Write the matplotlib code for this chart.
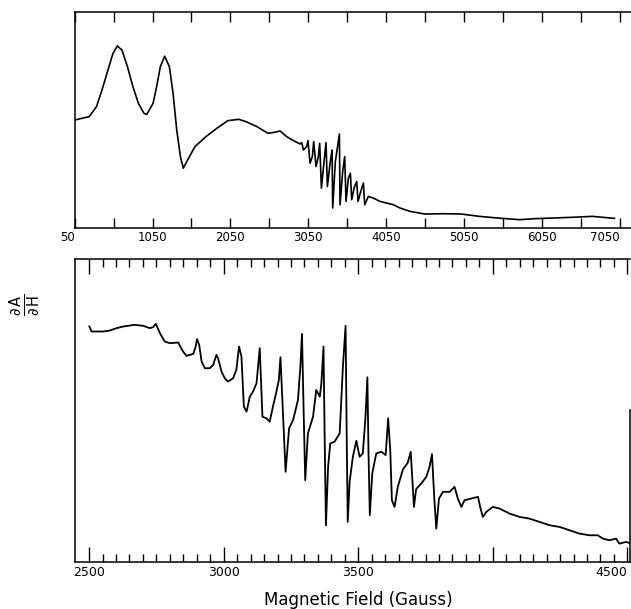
import numpy as np
import matplotlib
matplotlib.use("Agg")
import matplotlib.pyplot as plt
from matplotlib.transforms import ScaledTranslation

plt.rcParams['font.family'] = ['DejaVu Sans']
plt.rcParams['mathtext.fontset'] = 'dejavusans'

# ---- data: wide sweep (top panel) ----
top_field = [50, 237, 331, 401, 471, 542, 598, 659, 729, 799, 869, 940, 977, 1057, 1103,
             1150, 1206, 1267, 1314, 1361, 1408, 1445, 1501, 1595, 1736, 1876, 2016, 2157,
             2251, 2391, 2531, 2620, 2687, 2773, 2858, 2944, 2965, 2987, 3029, 3046, 3072,
             3102, 3119, 3149, 3179, 3196, 3218, 3252, 3277, 3295, 3329, 3355, 3363, 3397,
             3449, 3457, 3491, 3517, 3534, 3564, 3590, 3607, 3637, 3671, 3688, 3723, 3757,
             3774, 3821, 3885, 3971, 4056, 4142, 4228, 4357, 4545, 4779, 5013, 5247, 5481,
             5762, 5949, 6417, 6698, 6979]
top_signal = [325, 335, 365, 415, 470, 525, 548, 535, 485, 425, 375, 345, 342, 375, 425,
              485, 517, 485, 405, 295, 215, 180, 205, 245, 275, 300, 323, 327,
              320, 305, 285, 288, 292, 275, 263, 253, 257, 235, 245, 263, 195,
              215, 260, 185, 215, 255, 120, 200, 257, 125, 195, 235, 60, 200,
              283, 70, 170, 215, 80, 150, 165, 85, 120, 140, 80, 110, 135,
              70, 95, 90, 80, 75, 70, 60, 50, 42, 43, 42, 35, 30,
              25, 28, 32, 35, 29]

# ---- data: expanded sweep (bottom panel) ----
bot_field = [2501, 2509, 2528, 2553, 2577, 2602, 2627, 2670, 2701, 2726, 2738, 2748, 2763,
             2781, 2800, 2831, 2849, 2862, 2887, 2896, 2901, 2909, 2918, 2930, 2948, 2961,
             2973, 2979, 2992, 3004, 3016, 3035, 3047, 3057, 3066, 3075, 3085, 3097, 3109,
             3122, 3134, 3144, 3159, 3171, 3183, 3196, 3205, 3211, 3221, 3230, 3243, 3258,
             3276, 3285, 3291, 3297, 3303, 3313, 3332, 3344, 3357, 3363, 3371, 3375, 3380,
             3388, 3396, 3412, 3431, 3443, 3453, 3457, 3461, 3468, 3480, 3493, 3505, 3517,
             3527, 3534, 3538, 3543, 3552, 3567, 3586, 3602, 3611, 3619, 3625, 3635, 3647,
             3666, 3684, 3695, 3701, 3707, 3715, 3734, 3753, 3765, 3774, 3783, 3790, 3800,
             3815, 3840, 3858, 3870, 3883, 3895, 3920, 3945, 3953, 3963, 3976, 4000, 4025,
             4062, 4099, 4136, 4174, 4211, 4248, 4285, 4322, 4359, 4390, 4409, 4433, 4458,
             4470, 4495, 4508]
bot_signal = [705, 690, 690, 690, 693, 700, 705, 710, 707, 700, 703, 713, 685,
              660, 655, 657, 630, 617, 623, 645, 667, 650, 600, 580, 580, 590,
              620, 610, 570, 550, 540, 550, 575, 645, 615, 465, 450, 495, 510,
              535, 640, 435, 430, 420, 465, 510, 545, 613, 435, 270, 400, 425,
              485, 585, 683, 455, 245, 385, 435, 515, 495, 535, 645, 385, 110,
              285, 355, 360, 385, 585, 707, 385, 120, 240, 315, 363, 315, 325,
              435, 553, 335, 140, 265, 325, 330, 320, 430, 335, 185, 165, 225,
              277, 297, 330, 245, 165, 218, 235, 255, 285, 323, 185, 100, 190,
              210, 210, 225, 190, 165, 185, 190, 195, 165, 135, 150, 165, 160,
              145, 135, 130, 120, 110, 105, 95, 85, 80, 80, 70, 65, 70,
              55, 60, 57]

top_ticks = list(range(50, 7051, 500))
top_ticklabels = [str(v) if (v - 50) % 1000 == 0 else '' for v in top_ticks]
bot_major = [2500, 3000, 3500, 4000, 4500]
bot_majorlabels = ['2500', '3000', '3500', '', '4500']
bot_minor = list(range(2500, 4501, 50))

W, H = 631, 609
fig = plt.figure(figsize=(W / 100, H / 100), dpi=100)

lw_spine = 1.1
# ---- top panel ----
ax1 = fig.add_axes([74.6 / W, 1 - 228 / H, (W - 74.6) / W, (228 - 12) / H])
ax1.plot(top_field, top_signal, color='black', lw=1.2)
ax1.set_xlim(50, 7192)
ax1.set_ylim(0, 650)
ax1.set_yticks([])
ax1.set_xticks(top_ticks)
ax1.set_xticklabels(top_ticklabels)
ax1.tick_params(axis='x', which='both', direction='in', top=True, bottom=True,
                length=7, width=1.0, labelsize=8.5, pad=2)
ax1.get_xticklabels()[0].set_ha('right')
ax1.get_xticklabels()[-1].set_ha('right')
ax1.spines['right'].set_visible(False)
for s in ['left', 'top', 'bottom']:
    ax1.spines[s].set_linewidth(lw_spine)

# ---- bottom panel ----
ax2 = fig.add_axes([74.6 / W, 1 - 562 / H, (629.5 - 74.6) / W, (562 - 259) / H])
ax2.plot(bot_field, bot_signal, color='black', lw=1.3)
ax2.set_xlim(2446, 4508)
ax2.set_ylim(0, 907)
ax2.set_yticks([])
ax2.set_xticks(bot_major)
ax2.set_xticklabels(bot_majorlabels)
ax2.set_xticks(bot_minor, minor=True)
ax2.tick_params(axis='x', which='major', direction='in', top=True, bottom=True,
                length=11, width=1.0, labelsize=9, pad=3)
ax2.tick_params(axis='x', which='minor', direction='in', top=True, bottom=True,
                length=6, width=1.0)
ax2.get_xticklabels()[4].set_ha('right')
ax2.spines['right'].set_bounds(0, 455)
for s in ['left', 'top', 'bottom', 'right']:
    ax2.spines[s].set_linewidth(lw_spine)

fig.text(358 / W, 1 - 600 / H, 'Magnetic Field (Gauss)', fontsize=12,
         ha='center', va='center')
fig.text(25 / W, 1 - 305 / H, r'$\frac{\partial\,\mathrm{A}}{\partial\,\mathrm{H}}$',
         fontsize=15, rotation=90, ha='center', va='center')

fig.savefig('out.png', dpi=100)
